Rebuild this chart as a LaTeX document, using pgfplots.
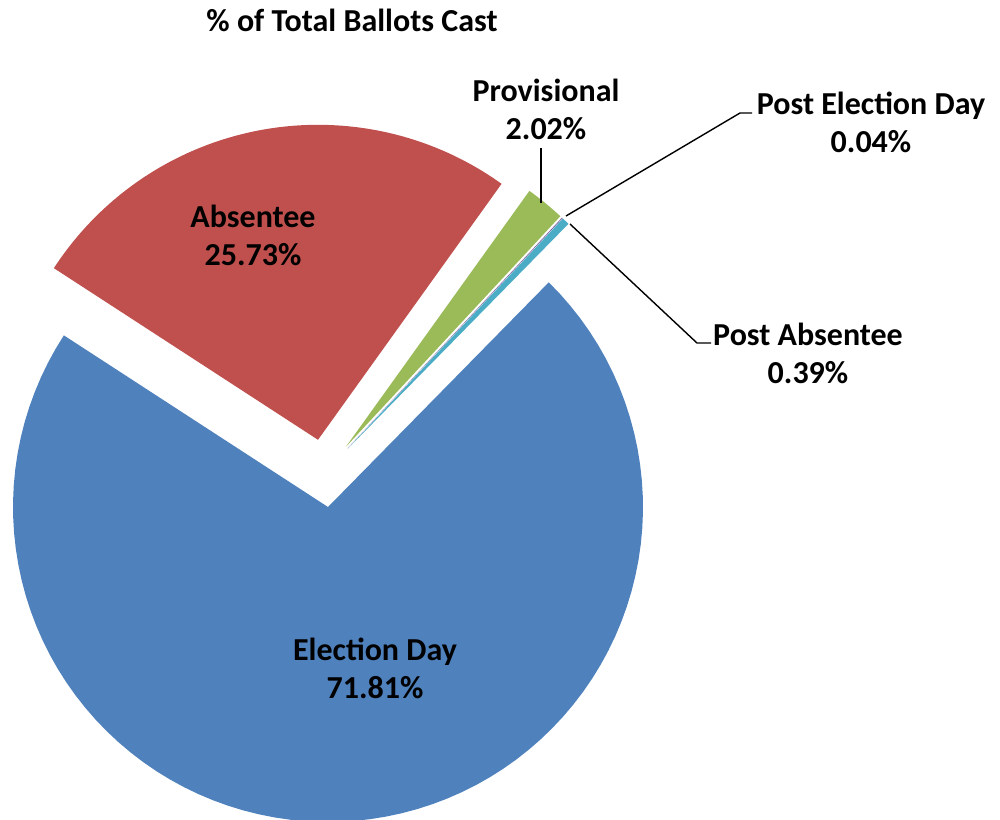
\documentclass[border=0pt]{standalone}
\usepackage{pgfplots}
\pgfplotsset{compat=1.18}
\usepackage{pgfplotstable}
\usepackage{fontspec}
\setmainfont{Carlito}
\definecolor{cBlue}{HTML}{4F81BD}
\definecolor{cRed}{HTML}{C0504D}
\definecolor{cGreen}{HTML}{9BBB59}
\definecolor{cPurple}{HTML}{8064A2}
\definecolor{cCyan}{HTML}{4BACC6}

% slices in Excel order (clockwise from start angle)
\pgfplotstableread{
label value
ElectionDay 71.81
Absentee 25.73
Provisional 2.02
PostElectionDay 0.04
PostAbsentee 0.39
}\slices

\newcommand\getval[2]{\pgfplotstablegetelem{#1}{value}\of\slices\let#2\pgfplotsretval}
\getval{0}\vA \getval{1}\vB \getval{2}\vC \getval{3}\vD \getval{4}\vE

% geometry in pixel units
\def\cx{324.3}\def\cy{473.2}\def\R{315}\def\ex{34}
\pgfmathsetmacro\aA{45.5}
\pgfmathsetmacro\aB{\aA-3.6*\vA}
\pgfmathsetmacro\aC{\aB-3.6*\vB}
\pgfmathsetmacro\aD{\aC-3.6*\vC}
\pgfmathsetmacro\aE{\aD-3.6*\vD}
\pgfmathsetmacro\aF{\aE-3.6*\vE}

\newcommand\slice[3]{%
  \pgfmathsetmacro\mid{(#2+#3)/2}%
  \pgfmathsetmacro\px{\cx+\ex*cos(\mid)}%
  \pgfmathsetmacro\py{\cy-\ex*sin(\mid)}%
  \edef\tmp{\noexpand\addplot[fill=#1, draw=none, domain=#3:#2, samples=90, variable=\noexpand\t]
    ({\px+\R*cos(\noexpand\t)},{\py-\R*sin(\noexpand\t)}) -- (axis cs:\px,\py) -- cycle;}%
  \tmp}

\begin{document}
\fontsize{16}{19}\selectfont
\begin{tikzpicture}
\begin{axis}[name=ax,width=500pt,height=409.5pt,scale only axis,hide axis,
  xmin=0,xmax=1000,ymin=0,ymax=819,y dir=reverse,clip=false]
\slice{cBlue}{\aA}{\aB}
\slice{cRed}{\aB}{\aC}
\slice{cGreen}{\aC}{\aD}
\slice{cPurple}{\aD}{\aE}
\slice{cCyan}{\aE}{\aF}
\addplot[black, line width=0.7pt] coordinates {(541,148) (541,203)};
\addplot[black, line width=0.7pt] coordinates {(566,216) (740,113) (752,113)};
\addplot[black, line width=0.7pt] coordinates {(570,224) (697,343) (711,343)};
\node[font=\bfseries] at (axis cs:352,20) {\% of Total Ballots Cast};
\node[font=\bfseries, align=center] at (axis cs:253,235) {Absentee\\25.73\%};
\node[font=\bfseries, align=center] at (axis cs:375,668) {Election Day\\71.81\%};
\node[font=\bfseries, align=center] at (axis cs:546,109) {Provisional\\2.02\%};
\node[font=\bfseries, align=center] at (axis cs:871,122) {Post Election Day\\0.04\%};
\node[font=\bfseries, align=center] at (axis cs:808,353) {Post Absentee\\0.39\%};
\end{axis}
\pgfresetboundingbox
\useasboundingbox (ax.south west) rectangle (ax.north east);
\end{tikzpicture}
\end{document}
